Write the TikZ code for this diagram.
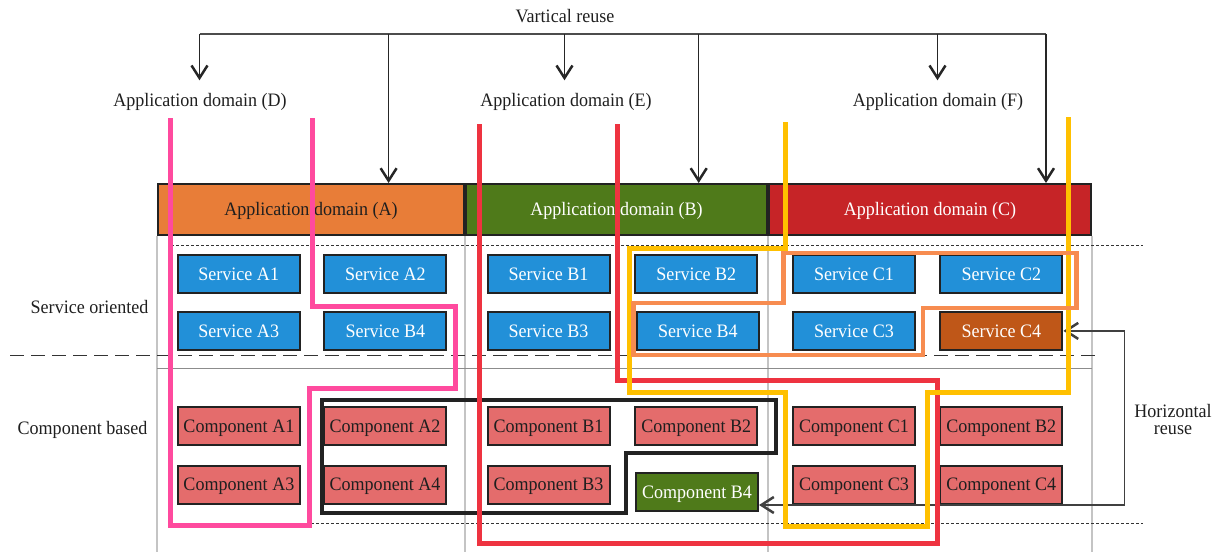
\documentclass[tikz,border=0pt]{standalone}
\usepackage{fontspec}
\setmainfont{Liberation Serif}[FakeStretch=0.95]
\usetikzlibrary{arrows.meta}

\definecolor{boxline}{HTML}{222222}
\definecolor{domA}{HTML}{E87D38}
\definecolor{domB}{HTML}{4F7A1A}
\definecolor{domC}{HTML}{C62427}
\definecolor{svcblue}{HTML}{2290D8}
\definecolor{svcbrown}{HTML}{BF5718}
\definecolor{cmpred}{HTML}{E46C6C}
\definecolor{pinkline}{HTML}{FF4A9E}
\definecolor{redline}{HTML}{EE3340}
\definecolor{yellowline}{HTML}{FFC000}
\definecolor{orangeline}{HTML}{F78C50}
\definecolor{guide}{HTML}{C4C4C4}

\tikzset{
  barb/.tip={Straight Barb[length=12.5pt,width=16pt,line width=2.5pt]},
  domainbox/.style={draw=boxline, line width=2pt, minimum height=51pt,
    text height=12.7pt, text depth=0pt, inner sep=0pt},
  ubox/.style={draw=boxline, line width=2pt, minimum width=122pt,
    minimum height=38pt, text height=12.7pt, text depth=0pt, inner sep=0pt},
  service/.style={ubox, fill=svcblue, text=white},
  component/.style={ubox, fill=cmpred, text=black!88},
  plain/.style={text=black!88},
  bracket/.style={draw=black!70, line width=1.4pt},
  drop/.style={draw=black!85, line width=1.5pt, -barb},
  colguide/.style={draw=guide, line width=1.5pt},
  fine/.style={draw=black!80, line width=1pt, dash pattern=on 3pt off 2pt},
  sepline/.style={draw=black!80, line width=1.5pt, dash pattern=on 14pt off 7pt},
  rowline/.style={draw=black!45, line width=1.5pt},
  group/.style={line width=5pt, line join=miter},
}

\begin{document}
\begin{tikzpicture}[x=1pt, y=-1pt, font=\fontsize{19pt}{17pt}\selectfont]
\useasboundingbox (0,0) rectangle (1219,552);

% column guides and row separators
\foreach \gx in {157,465,768,1092}
  \draw[colguide] (\gx,236) -- (\gx,552);
\draw[fine] (171,245) -- (1143,245);
\draw[fine] (171,523) -- (1143,523);
\draw[sepline] (10,355.3) -- (1097,355.3);
\draw[rowline] (157,368.3) -- (1092,368.3);

% application domains
\node[domainbox, fill=domA, text=black!88, minimum width=306pt] (A) at (311,209.5) {Application domain (A)};
\node[domainbox, fill=domB, text=white, minimum width=301pt] (B) at (616.5,209.5) {Application domain (B)};
\node[domainbox, fill=domC, text=white, minimum width=322pt] (C) at (930,209.5) {Application domain (C)};

% titles
\node[plain, anchor=base] (vr) at (565,22.7) {Vartical reuse};
\node[plain, anchor=base] (dD) at (200,106) {Application domain (D)};
\node[plain, anchor=base] (dE) at (566,106) {Application domain (E)};
\node[plain, anchor=base] (dF) at (938,106) {Application domain (F)};
\node[plain, anchor=base east] (so) at (152,313.3) {Service oriented};
\node[plain, anchor=base east] (cb) at (151,434) {Component based};
\node[plain, align=center] (hrl) at (1173,419) {Horizontal\\reuse};

% services
\node[service] (sA1) at (238.7,274.3) {Service A1};
\node[service] (sA2) at (385.4,274.3) {Service A2};
\node[service] (sB1) at (548.5,274.3) {Service B1};
\node[service] (sB2) at (696.3,274.3) {Service B2};
\node[service] (sC1) at (854,274.3) {Service C1};
\node[service] (sC2) at (1001.4,274.3) {Service C2};
\node[service] (sA3) at (238.7,330.9) {Service A3};
\node[service] (sB4a) at (385.4,330.9) {Service B4};
\node[service] (sB3) at (548.5,330.9) {Service B3};
\node[service] (sB4) at (697.9,330.9) {Service B4};
\node[service] (sC3) at (854,330.9) {Service C3};
\node[service, fill=svcbrown] (sC4) at (1001.4,330.9) {Service C4};

% components
\node[component] (cA1) at (238.9,426.3) {Component A1};
\node[component] (cA2) at (385,426.3) {Component A2};
\node[component] (cB1) at (548.5,426.3) {Component B1};
\node[component] (cB2) at (696.3,426.3) {Component B2};
\node[component] (cC1) at (854,426.3) {Component C1};
\node[component] (cB2b) at (1001.2,426.3) {Component B2};
\node[component] (cA3) at (238.9,484.5) {Component A3};
\node[component] (cA4) at (385,484.5) {Component A4};
\node[component] (cB3) at (548.5,484.5) {Component B3};
\node[component, fill=domB, text=white] (cB4) at (697,492) {Component B4};
\node[component] (cC3) at (854,484.5) {Component C3};
\node[component] (cC4) at (1001.2,484.5) {Component C4};

% vertical reuse bracket
\coordinate (bL) at (199.5,33.8);
\coordinate (bA) at (388.6,33.8);
\coordinate (bE) at (564.5,33.8);
\coordinate (bB) at (698.7,33.8);
\coordinate (bF) at (937.5,33.8);
\coordinate (bR) at (1046,33.8);
\draw[bracket] (bL) -- (bR);
\draw[drop, shorten >=9pt] (bL) -- (bL |- dD.north);
\draw[drop] (bA) -- (bA |- A.north);
\draw[drop, shorten >=9pt] (bE) -- (bE |- dE.north);
\draw[drop] (bB) -- (bB |- B.north);
\draw[drop, shorten >=9pt] (bF) -- (bF |- dF.north);
\draw[drop] (bR) -- (bR |- C.north);

% horizontal reuse connector
\coordinate (hr) at (1124.3,331);
\draw[draw=black!75, line width=1.5pt, barb-barb]
  (sC4.east) -- (sC4.east -| hr) |- ([yshift=-13pt]cB4.east);

% reuse groupings
\draw[line width=3.8pt, draw=boxline, line join=miter]
  (322,400) -- (775.7,400) -- (775.7,453.3) -- (625.7,453.3)
  -- (625.7,512.7) -- (322,512.7) -- cycle;
\draw[group, draw=pinkline]
  (170,118.3) -- (170,525.6) -- (309.3,525.6) -- (309.3,388.3)
  -- (455.2,388.3) -- (455.2,306.7) -- (312,306.7) -- (312,118.3);
\draw[group, draw=redline]
  (479.7,124) -- (479.7,543.3) -- (937.5,543.3) -- (937.5,380)
  -- (617.8,380) -- (617.8,124);
\draw[group, draw=yellowline]
  (785.5,122.3) -- (785.5,248) -- (629.3,248) -- (629.3,392.3)
  -- (785.5,392.3) -- (785.5,526) -- (927.7,526) -- (927.7,392.3)
  -- (1068.2,392.3) -- (1068.2,116.7);
\draw[line width=4.2pt, line join=miter, draw=orangeline]
  (783.5,253.3) -- (1076.5,253.3) -- (1076.5,307.7) -- (923,307.7)
  -- (923,355) -- (633.5,355) -- (633.5,303.3) -- (783.5,303.3) -- cycle;
\end{tikzpicture}
\end{document}
